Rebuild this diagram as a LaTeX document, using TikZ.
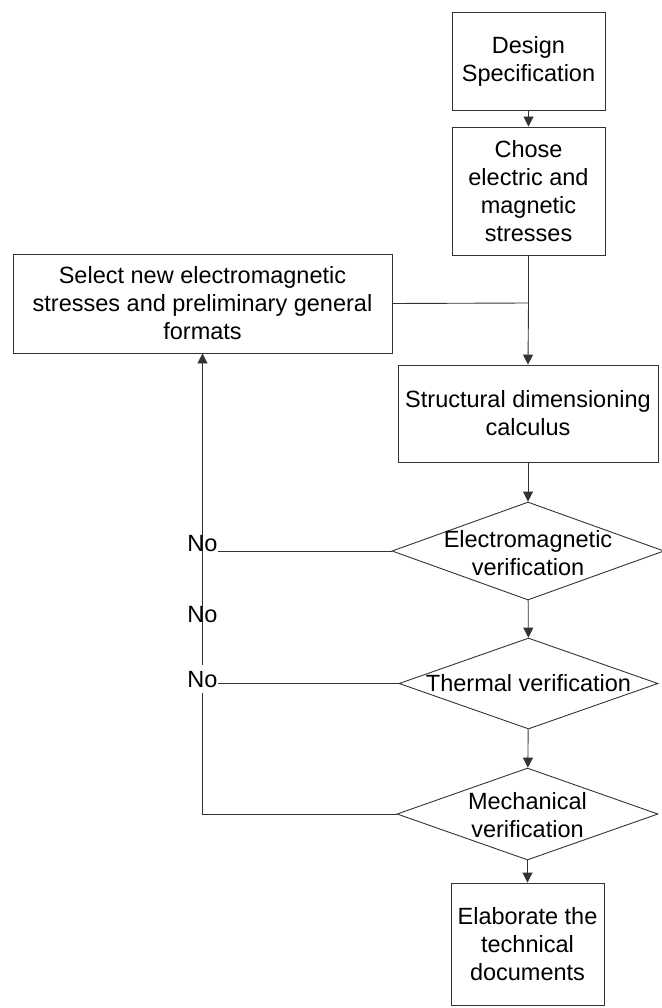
\documentclass[tikz,border=0pt]{standalone}
\usepackage{fontspec}
\setmainfont{Liberation Sans}
\usetikzlibrary{arrows.meta,shapes.geometric}
\begin{document}
\begin{tikzpicture}[x=1pt,y=-1pt,
  every node/.style={font=\fontsize{23.5}{28}\selectfont, text=black},
  box/.style={draw=black!80, line width=0.9pt, align=center, inner sep=0pt},
  dia/.style={draw=black!80, line width=0.9pt, shape=diamond, inner sep=0pt},
  dtext/.style={align=center, inner sep=0pt},
  lab/.style={inner sep=0pt, anchor=base},
  line/.style={draw=black!80, line width=0.9pt},
  arr/.style={line, -{Triangle[length=10pt,width=10pt]}}]
\useasboundingbox (0,0) rectangle (661,1008);
\node[box, minimum width=153pt, minimum height=98pt] (design) at (528.5,61) {Design\\Specification};
\node[box, minimum width=153pt, minimum height=128pt] (chose) at (528.5,191) {Chose\\electric and\\magnetic\\stresses};
\node[box, minimum width=379pt, minimum height=99pt] (select) at (202.5,303.5) {Select new electromagnetic\\stresses and preliminary general\\formats};
\node[box, minimum width=260pt, minimum height=97pt] (struct) at (528,413.5) {Structural dimensioning\\calculus};
\node[dia, minimum width=272pt, minimum height=98pt] (d1) at (528,551) {};
\node[dtext] (t1) at (528,553) {Electromagnetic\\verification};
\node[dia, minimum width=259pt, minimum height=91pt] (d2) at (528.5,683.5) {};
\node[dtext] (t2) at (528.5,683.5) {Thermal verification};
\node[dia, minimum width=261pt, minimum height=92pt] (d3) at (527.5,814) {};
\node[dtext] (t3) at (527.5,815) {Mechanical\\verification};
\node[box, minimum width=153pt, minimum height=122pt] (elab) at (527.5,944) {Elaborate the\\technical\\documents};
\coordinate (j) at (528.5,303);
% main flow
\draw[arr] (design) -- (chose);
\draw[line] (chose.south) -- (j);
\draw[line] (select.east) -- (j);
\draw[arr] (j) -- (struct.north);
\draw[arr] (struct) -- (d1);
\draw[arr] (d1) -- (d2);
\draw[arr] (d2) -- (d3);
\draw[arr] (d3) -- (elab);
% loop back
\draw[arr] (d3.west) -| (select.south);
\node[lab] (no1) at (202.5,551) {No};
\node[lab] (no2) at (202.5,622) {No};
\node[lab, fill=white, inner ysep=6pt] (no3) at (202.5,687) {No};
\draw[line] (d1.west) -- (d1.west -| no1.east);
\draw[line] (d2.west) -- (d2.west -| no3.east);
\end{tikzpicture}
\end{document}
